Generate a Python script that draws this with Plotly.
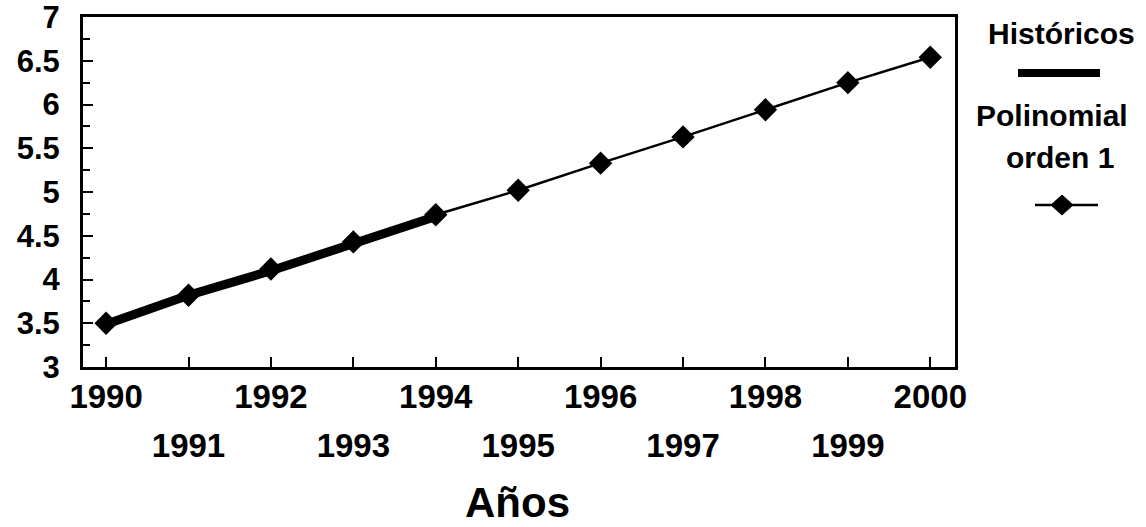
import plotly.graph_objects as go

# ---- data ----
years_hist = [1990, 1991, 1992, 1993, 1994]
hist_values = [3.49, 3.82, 4.10, 4.42, 4.72]
years_poly = [1990, 1991, 1992, 1993, 1994, 1995, 1996, 1997, 1998, 1999, 2000]
poly_values = [3.50, 3.82, 4.12, 4.43, 4.74, 5.02, 5.33, 5.63, 5.94, 6.25, 6.54]
x_even_years = [1990, 1992, 1994, 1996, 1998, 2000]
x_odd_years = [1991, 1993, 1995, 1997, 1999]
y_tickvals = [3, 3.5, 4, 4.5, 5, 5.5, 6, 6.5, 7]
y_ticktext = ["3", "3.5", "4", "4.5", "5", "5.5", "6", "6.5", "7"]
legend_names = ["Históricos", "Polinomial", "orden 1"]
x_title = "Años"

# ---- layout geometry (pixels) ----
W, H = 1146, 527
L, R, T, B = 83, 955, 17, 367
FONT = "Liberation Sans, Arial, sans-serif"


def px_x(p):
    return (p - L) / (R - L)


def px_y(p):
    return (B - p) / (B - T)


fig = go.Figure()
fig.add_trace(go.Scatter(
    x=years_hist, y=hist_values, mode="lines", name=legend_names[0],
    line=dict(color="black", width=9), showlegend=False))
fig.add_trace(go.Scatter(
    x=years_poly, y=poly_values, mode="lines+markers",
    name=legend_names[1] + " " + legend_names[2],
    line=dict(color="black", width=2.5),
    marker=dict(symbol="diamond", size=18, color="black"), showlegend=False))
# helper trace so the second (label-only) x axis is drawn
fig.add_trace(go.Scatter(
    x=x_odd_years, y=[None] * len(x_odd_years), xaxis="x2", yaxis="y",
    mode="lines", showlegend=False, hoverinfo="skip"))

xrange = [1989.72, 2000.30]
tickfont_x = dict(family=FONT, size=33, color="black", weight="bold")

fig.update_layout(
    template="none",
    width=W, height=H, autosize=False,
    margin=dict(l=L, r=W - R, t=T, b=H - B, autoexpand=False),
    paper_bgcolor="white", plot_bgcolor="white",
    showlegend=False,
    xaxis=dict(
        range=xrange, showgrid=False, zeroline=False, automargin=False,
        showline=True, linecolor="black", linewidth=3, mirror=True,
        tickmode="array", tickvals=x_even_years,
        ticktext=[str(v) for v in x_even_years],
        ticks="inside", ticklen=10, tickwidth=2, tickcolor="black",
        minor=dict(ticks="inside", ticklen=10, tickwidth=2, tickcolor="black",
                   dtick=1, tick0=1990, showgrid=False),
        tickfont=tickfont_x, ticklabelstandoff=-2,
        ticklabeloverflow="allow",
    ),
    xaxis2=dict(
        range=xrange, overlaying="x", anchor="y", side="bottom",
        showgrid=False, zeroline=False, showline=False, automargin=False,
        tickmode="array", tickvals=x_odd_years,
        ticktext=[str(v) for v in x_odd_years],
        ticks="", tickfont=tickfont_x, ticklabelstandoff=56,
        ticklabeloverflow="allow",
    ),
    yaxis=dict(
        range=[3, 7], showgrid=False, zeroline=False, automargin=False,
        showline=True, linecolor="black", linewidth=3, mirror=True,
        tickmode="array", tickvals=y_tickvals, ticktext=y_ticktext,
        ticks="inside", ticklen=10, tickwidth=2, tickcolor="black",
        minor=dict(ticks="inside", ticklen=7, tickwidth=2, tickcolor="black",
                   dtick=0.25, tick0=3, showgrid=False),
        tickfont=dict(family=FONT, size=31, color="black", weight="bold"),
        ticklabelstandoff=14, ticklabeloverflow="allow",
    ),
)

# x-axis title
fig.add_annotation(
    text=x_title, xref="paper", yref="paper",
    x=px_x(517), y=px_y(502), xanchor="center", yanchor="middle",
    showarrow=False, font=dict(family=FONT, size=42, color="black", weight="bold"))

# custom legend (text above swatch, as in the reference)
legend_font = dict(family=FONT, size=30, color="black", weight="bold")
fig.add_annotation(text=legend_names[0], xref="paper", yref="paper",
                   x=px_x(1061), y=px_y(33), xanchor="center", yanchor="middle",
                   showarrow=False, font=legend_font)
fig.add_annotation(text=legend_names[1], xref="paper", yref="paper",
                   x=px_x(1052), y=px_y(116), xanchor="center", yanchor="middle",
                   showarrow=False, font=legend_font)
fig.add_annotation(text=legend_names[2], xref="paper", yref="paper",
                   x=px_x(1060), y=px_y(157), xanchor="center", yanchor="middle",
                   showarrow=False, font=legend_font)
# legend swatch: thick line
fig.add_shape(type="line", xref="paper", yref="paper",
              x0=px_x(1018), x1=px_x(1100), y0=px_y(73), y1=px_y(73),
              line=dict(color="black", width=8))
# legend swatch: thin line with diamond
fig.add_shape(type="line", xref="paper", yref="paper",
              x0=px_x(1035), x1=px_x(1098), y0=px_y(205), y1=px_y(205),
              line=dict(color="black", width=2.5))
cx, cy, hw, hh = 1062, 205, 11, 10
fig.add_shape(type="path", xref="paper", yref="paper",
              path=(f"M {px_x(cx - hw)} {px_y(cy)} L {px_x(cx)} {px_y(cy - hh)} "
                    f"L {px_x(cx + hw)} {px_y(cy)} L {px_x(cx)} {px_y(cy + hh)} Z"),
              fillcolor="black", line=dict(color="black", width=1))

fig.write_html("out.html",
               config={"displayModeBar": False},
               post_script="document.body.style.margin='0px';")
